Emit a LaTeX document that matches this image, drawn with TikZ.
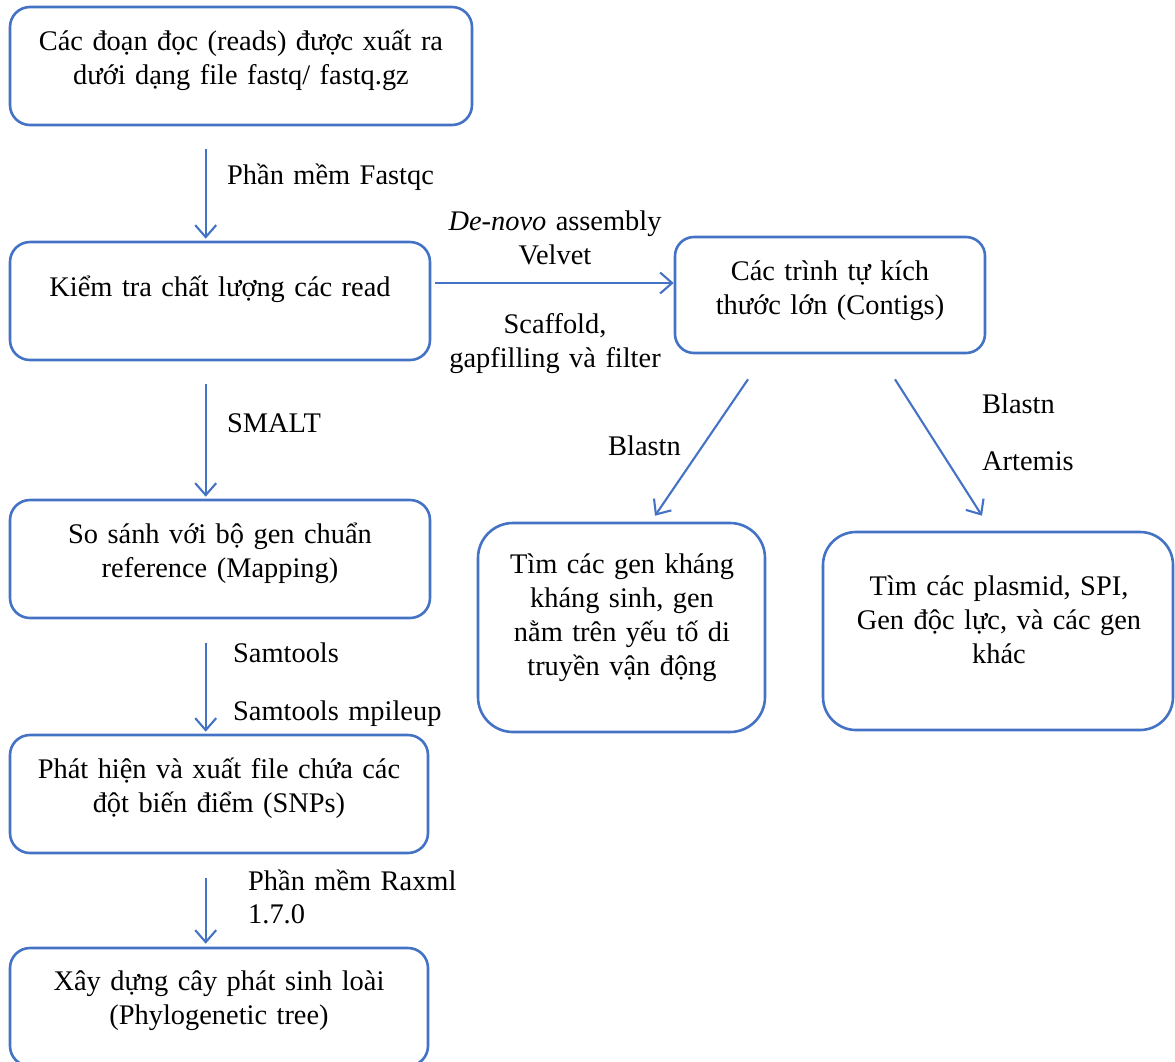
\documentclass[tikz,border=0pt]{standalone}
\usepackage{fontspec}
\setmainfont{Liberation Serif}
\usetikzlibrary{arrows.meta,calc}
\definecolor{boxblue}{RGB}{68,114,196}
\tikzset{
  box/.style={draw=boxblue, line width=2.6pt, inner sep=0pt, fill=white},
  txt/.style={font=\fontsize{28.4}{34}\selectfont, inner sep=0pt, align=center, anchor=base},
  lbl/.style={font=\fontsize{28.4}{34}\selectfont, inner sep=0pt, align=left, anchor=base west, text width=240pt},
  arr/.style={draw=boxblue, line width=2.1pt, -{Straight Barb[length=12pt,width=21pt]}}
}
\begin{document}
\begin{tikzpicture}[x=1pt,y=-1pt]
\useasboundingbox (0,0) rectangle (1175,1061);
\clip (0,0) rectangle (1175,1061);
% boxes
\node[box, minimum width=462pt, minimum height=118pt, rounded corners=20pt] (b1) at (241,66) {};
\node[box, minimum width=420pt, minimum height=118pt, rounded corners=20pt] (b2) at (220,301) {};
\node[box, minimum width=420pt, minimum height=118pt, rounded corners=20pt] (b3) at (220,559) {};
\node[box, minimum width=418pt, minimum height=118pt, rounded corners=20pt] (b4) at (219,794) {};
\node[box, minimum width=418pt, minimum height=118pt, rounded corners=20pt] (b5) at (219,1007) {};
\node[box, minimum width=310pt, minimum height=116pt, rounded corners=19pt] (bc) at (830,295) {};
\node[box, minimum width=287pt, minimum height=209pt, rounded corners=35pt] (bl) at (621.5,627.5) {};
\node[box, minimum width=350pt, minimum height=198pt, rounded corners=33pt] (br) at (998,631) {};
% box texts
\node[txt, text width=450pt] (t1) at (241,50) {Các đoạn đọc (reads) được xuất ra\\dưới dạng file fastq/ fastq.gz};
\node[txt, text width=410pt] (t2) at (220,296) {Kiểm tra chất lượng các read};
\node[txt, text width=410pt] (t3) at (220,543) {So sánh với bộ gen chuẩn\\reference (Mapping)};
\node[txt, text width=410pt] (t4) at (219,778) {Phát hiện và xuất file chứa các\\đột biến điểm (SNPs)};
\node[txt, text width=410pt] (t5) at (219,990) {Xây dựng cây phát sinh loài\\(Phylogenetic tree)};
\node[txt, text width=300pt] (tc) at (830,280) {Các trình tự kích\\thước lớn (Contigs)};
\node[txt, text width=280pt] (tl) at (622,573) {Tìm các gen kháng\\kháng sinh, gen\\nằm trên yếu tố di\\truyền vận động};
\node[txt, text width=345pt] (tr) at (999,595) {Tìm các plasmid, SPI,\\Gen độc lực, và các gen\\khác};
% connector labels
\node[lbl] (l1) at (227,184) {Phần mềm Fastqc};
\node[lbl] (l2) at (227,432) {SMALT};
\node[lbl] (l3) at (233,662) {Samtools};
\node[lbl] (l4) at (233,720) {Samtools mpileup};
\node[lbl, font=\fontsize{28.4}{33}\selectfont] (l5) at (248,890) {Phần mềm Raxml\\1.7.0};
\node[txt, text width=240pt] (l6) at (555,230) {\textit{De-novo} assembly\\Velvet};
\node[txt, text width=240pt] (l7) at (555,333) {Scaffold,\\gapfilling và filter};
\node[lbl, text width=100pt] (l8) at (608,455) {Blastn};
\node[lbl, text width=150pt] (l9) at (982,413) {Blastn};
\node[lbl, text width=150pt] (l10) at (982,470) {Artemis};
% connectors
\draw[arr] ($(b1.south west)+(197,23)$) -- ($(b2.north west)+(197,-2)$);
\draw[arr] ($(b2.south west)+(197,23)$) -- ($(b3.north west)+(197,-2)$);
\draw[arr] ($(b3.south west)+(197,24)$) -- ($(b4.north west)+(197,-2)$);
\draw[arr] ($(b4.south west)+(197,24)$) -- ($(b5.north west)+(197,-3)$);
\draw[arr] ($(b2.east)+(4,-18)$) -- ($(bc.west)+(0,-12)$);
\draw[arr] ($(bc.south)+(-82,25)$) -- ($(bl.north)+(33.5,-6)$);
\draw[arr] ($(bc.south)+(65,25)$) -- ($(br.north)+(-16,-15)$);
\end{tikzpicture}
\end{document}
